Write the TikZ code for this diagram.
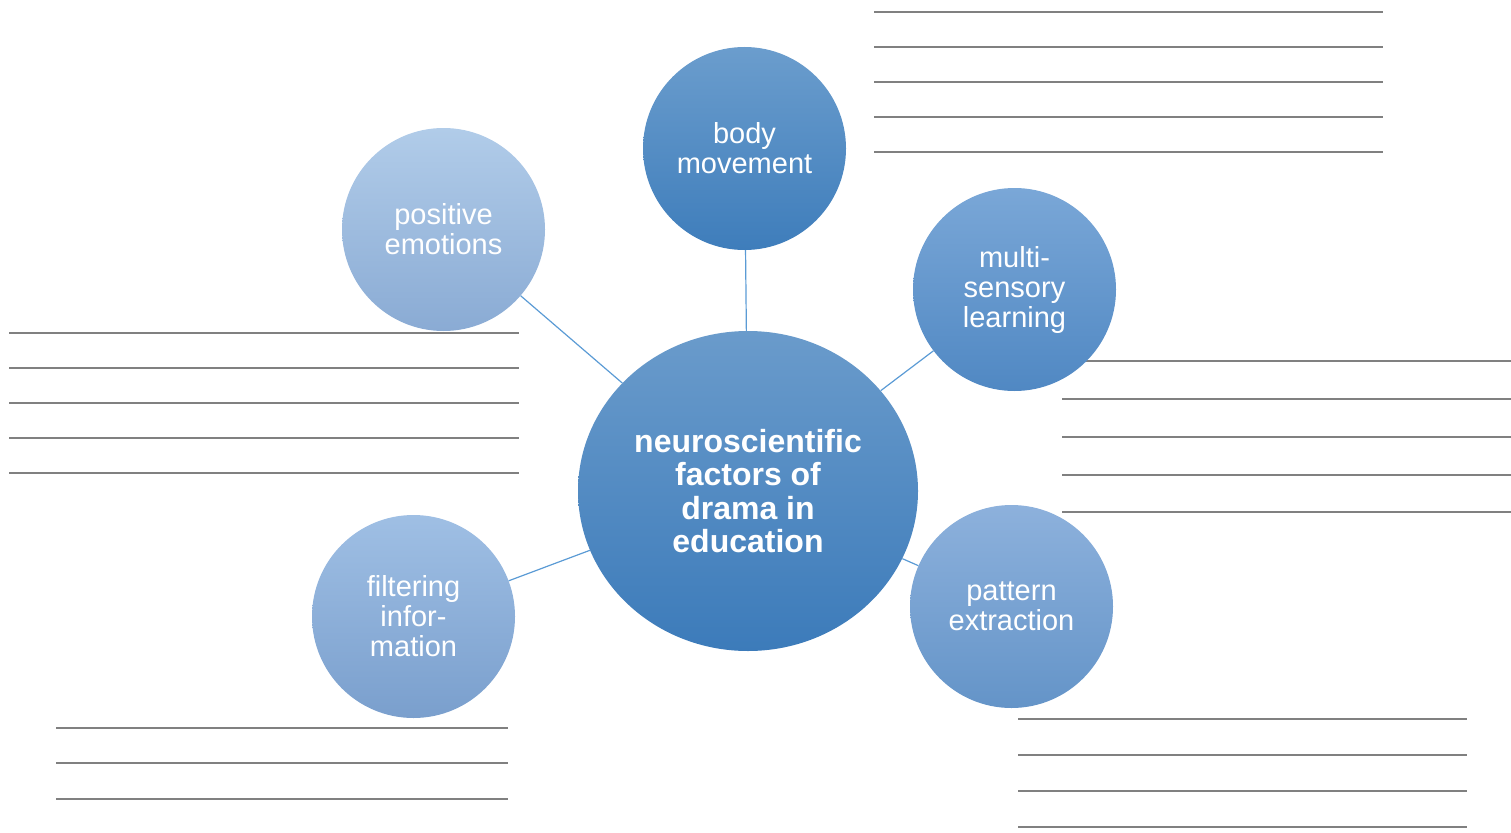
\documentclass[tikz,border=0pt]{standalone}
\usepackage{fontspec}
\setmainfont{Liberation Sans}
\usetikzlibrary{shapes.geometric}

\definecolor{linkblue}{HTML}{5B9BD5}
\definecolor{rulegray}{HTML}{808080}

\tikzset{
    bubble/.style={circle, minimum size=203pt, inner sep=0pt, text=white, align=center,
        font=\fontsize{29}{30}\selectfont},
    hub/.style={ellipse, minimum width=340pt, minimum height=320pt, inner sep=0pt, text=white,
        align=center, font=\fontsize{32}{33.5}\selectfont\bfseries,
        top color=hubtop, bottom color=hubbot},
    link/.style={draw=linkblue, line width=1.2pt},
    rule/.style={draw=rulegray, line width=2pt}
}

\definecolor{hubtop}{HTML}{6A9BCB}
\definecolor{hubbot}{HTML}{3C7BBA}

\begin{document}
\begin{tikzpicture}[x=1pt, y=-1pt]
            \useasboundingbox (0,0) rectangle (1511,832);

            % Writing lines next to each bubble
            \foreach \y in {12,47,82,117,152} \draw[rule] (874,\y) -- (1383,\y);
            \foreach \y in {333,368,403,438,473} \draw[rule] (9,\y) -- (519,\y);
            \foreach \y in {361,399,437,475,512} \draw[rule] (1062,\y) -- (1511,\y);
            \foreach \y in {728,763,799} \draw[rule] (56,\y) -- (508,\y);
            \foreach \y in {719,755,791,827} \draw[rule] (1018,\y) -- (1467,\y);

            % Central node and the five outer bubbles
            \node[hub] (hub) at (748,491) {neuroscientific\\factors of\\drama in\\education};

            \node[bubble, top color={rgb,255:red,107;green,157;blue,205}, bottom color={rgb,255:red,62;green,125;blue,187}] (body) at (744.5,148.5) {body\\movement};
            \node[bubble, top color={rgb,255:red,177;green,204;blue,233}, bottom color={rgb,255:red,138;green,171;blue,212}] (emotions) at (443.5,229.5) {positive\\emotions};
            \node[bubble, top color={rgb,255:red,122;green,167;blue,215}, bottom color={rgb,255:red,80;green,136;blue,195}] (senses) at (1014.5,289.5) {multi-\\sensory\\learning};
            \node[bubble, top color={rgb,255:red,141;green,177;blue,220}, bottom color={rgb,255:red,100;green,148;blue,200}] (pattern) at (1011.5,606.5) {pattern\\extraction};
            \node[bubble, top color={rgb,255:red,159;green,191;blue,228}, bottom color={rgb,255:red,122;green,159;blue,205}] (filter) at (413.5,616.5) {filtering\\infor-\\mation};

            % Spokes from the hub
            \draw[link] (hub) -- (body);
            \draw[link] (hub) -- (emotions);
            \draw[link] (hub) -- (senses);
            \draw[link] (hub) -- (pattern);
            \draw[link] (hub) -- (filter);
        \end{tikzpicture}
\end{document}
